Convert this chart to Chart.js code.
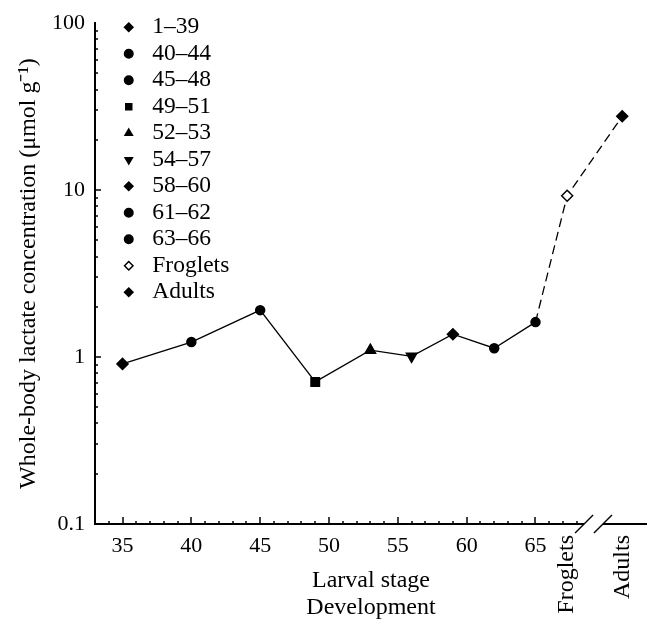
<!DOCTYPE html>
<html>
<head>
<meta charset="utf-8">
<script src="https://cdn.jsdelivr.net/npm/chart.js@4.4.1/dist/chart.umd.min.js"></script>
<style>
  html, body { margin: 0; padding: 0; background: #fff; }
  canvas { display: block; }
</style>
</head>
<body>
<canvas id="chart" width="654" height="626"></canvas>
<script>
// stage groups as listed in the legend
const stageGroups = ['1–39', '40–44', '45–48', '49–51', '52–53', '54–57', '58–60', '61–62', '63–66', 'Froglets', 'Adults'];
// larval stage of each point (froglets / adults sit past the axis break)
const stages = [35, 40, 45, 49, 53, 56, 59, 62, 65, 67.3, 71.3];
// whole-body lactate, umol/g
const lactate = [0.91, 1.23, 1.91, 0.71, 1.10, 1.01, 1.37, 1.13, 1.62, 9.25, 27.7];
const xTickValues = [35, 40, 45, 50, 55, 60, 65];
const yTickValues = [0.1, 1, 10, 100];
const brokenAxisLabels = ['Froglets', 'Adults'];

// marker look per group
const markers = ['rectRot', 'circle', 'circle', 'rect', 'triangle', 'triangle', 'rectRot', 'circle', 'circle', 'rectRot', 'rectRot'];
const markerRotation = [0, 0, 0, 0, 0, 180, 0, 0, 0, 0, 0];
const markerFill = ['#000', '#000', '#000', '#000', '#000', '#000', '#000', '#000', '#000', '#fff', '#000'];
const markerRadius = {rectRot: 5.5, circle: 4.5, rect: 6, triangle: 6};

const serif = "'Liberation Serif', 'Times New Roman', serif";
const axisBreak = [68.53, 69.9];

const axisDecor = {
    id: 'axisDecor',
    afterLayout(chart) {
        // nudge the in-plot legend to where the original sits
        chart.legend.left = chart.chartArea.left + 19;
        chart.legend.top = 12.5;
    },
    afterDraw(chart) {
        const {ctx, chartArea: area, scales: {x, y}} = chart;
        ctx.save();
        ctx.strokeStyle = '#000';

        // broken x axis line
        ctx.lineWidth = 2;
        const b0 = x.getPixelForValue(axisBreak[0]);
        const b1 = x.getPixelForValue(axisBreak[1]);
        ctx.beginPath();
        ctx.moveTo(area.left - 1, area.bottom);
        ctx.lineTo(b0, area.bottom);
        ctx.moveTo(b1, area.bottom);
        ctx.lineTo(area.right, area.bottom);
        ctx.stroke();

        ctx.lineWidth = 1.4;
        [b0, b1].forEach(px => {
            ctx.beginPath();
            ctx.moveTo(px - 9, area.bottom + 9);
            ctx.lineTo(px + 9, area.bottom - 9);
            ctx.stroke();
        });

        // inward ticks on x (every stage, longer on multiples of 5)
        ctx.lineWidth = 1.5;
        for (let v = 34; v <= 68; v++) {
            const px = Math.round(x.getPixelForValue(v));
            const len = v % 5 === 0 ? 7 : 3;
            ctx.beginPath();
            ctx.moveTo(px, area.bottom);
            ctx.lineTo(px, area.bottom - len);
            ctx.stroke();
        }

        // inward log ticks on y
        [0.1, 1, 10].forEach(d => {
            for (let m = 1; m <= 9; m++) {
                const v = d * m;
                if (v <= 0.1 + 1e-9) continue;
                const py = Math.round(y.getPixelForValue(v));
                const len = m === 1 ? 6 : 3;
                ctx.beginPath();
                ctx.moveTo(area.left, py);
                ctx.lineTo(area.left + len, py);
                ctx.stroke();
            }
        });

        // rotated labels past the break
        ctx.fillStyle = '#000';
        ctx.font = '24px ' + serif;
        ctx.textAlign = 'right';
        ctx.textBaseline = 'middle';
        brokenAxisLabels.forEach((label, i) => {
            const px = x.getPixelForValue(stages[stages.length - brokenAxisLabels.length + i]);
            ctx.save();
            ctx.translate(px, area.bottom + 11);
            ctx.rotate(-Math.PI / 2);
            ctx.fillText(label, 0, 0);
            ctx.restore();
        });
        ctx.restore();
    }
};

const ctx = document.getElementById('chart').getContext('2d');

new Chart(ctx, {
    type: 'line',
    data: {
        datasets: [{
            data: stages.map((s, i) => ({x: s, y: lactate[i]})),
            borderColor: '#000',
            borderWidth: 1.3,
            tension: 0,
            fill: false,
            pointStyle: markers,
            pointRotation: markerRotation,
            pointRadius: c => markerRadius[markers[c.dataIndex]],
            pointBackgroundColor: markerFill,
            pointBorderColor: '#000',
            pointBorderWidth: 1.5,
            segment: {
                borderDash: c => c.p0DataIndex >= 8 ? [9, 5] : undefined
            }
        }]
    },
    options: {
        responsive: false,
        animation: false,
        devicePixelRatio: 1,
        layout: {padding: {top: 21, right: 0, bottom: 0, left: 0}},
        scales: {
            x: {
                type: 'linear',
                min: 33,
                max: 73.1,
                afterBuildTicks: s => { s.ticks = xTickValues.map(v => ({value: v})); },
                afterFit: s => { s.height = 102; },
                ticks: {
                    autoSkip: false,
                    maxRotation: 0,
                    padding: 9,
                    color: '#000',
                    font: {family: serif, size: 22}
                },
                grid: {display: false, drawTicks: false},
                border: {display: false},
                title: {
                    display: true,
                    text: ['Larval stage', 'Development'],
                    color: '#000',
                    font: {family: serif, size: 24, lineHeight: 1.125},
                    padding: {top: 0, bottom: 5}
                }
            },
            y: {
                type: 'logarithmic',
                min: 0.1,
                max: 100,
                afterBuildTicks: s => { s.ticks = yTickValues.map(v => ({value: v})); },
                afterFit: s => { s.width = 95; },
                ticks: {
                    autoSkip: false,
                    padding: 10,
                    color: '#000',
                    font: {family: serif, size: 22},
                    callback: v => String(v)
                },
                grid: {display: false, drawTicks: false},
                border: {display: true, color: '#000', width: 2},
                title: {
                    display: true,
                    text: 'Whole-body lactate concentration (μmol g⁻¹)',
                    color: '#000',
                    font: {family: serif, size: 24, lineHeight: 1.125},
                    padding: {top: 15, bottom: 0}
                }
            }
        },
        plugins: {
            tooltip: {enabled: false},
            legend: {
                position: 'chartArea',
                align: 'start',
                onClick: null,
                labels: {
                    usePointStyle: true,
                    boxWidth: 24,
                    boxHeight: 6,
                    padding: 3,
                    color: '#000',
                    font: {family: serif, size: 23.5},
                    generateLabels: () => stageGroups.map((text, i) => ({
                        text: text,
                        pointStyle: markers[i],
                        rotation: markerRotation[i],
                        fillStyle: markerFill[i],
                        strokeStyle: '#000',
                        lineWidth: 1.5,
                        hidden: false,
                        datasetIndex: 0
                    }))
                }
            }
        }
    },
    plugins: [axisDecor]
});
</script>
</body>
</html>
